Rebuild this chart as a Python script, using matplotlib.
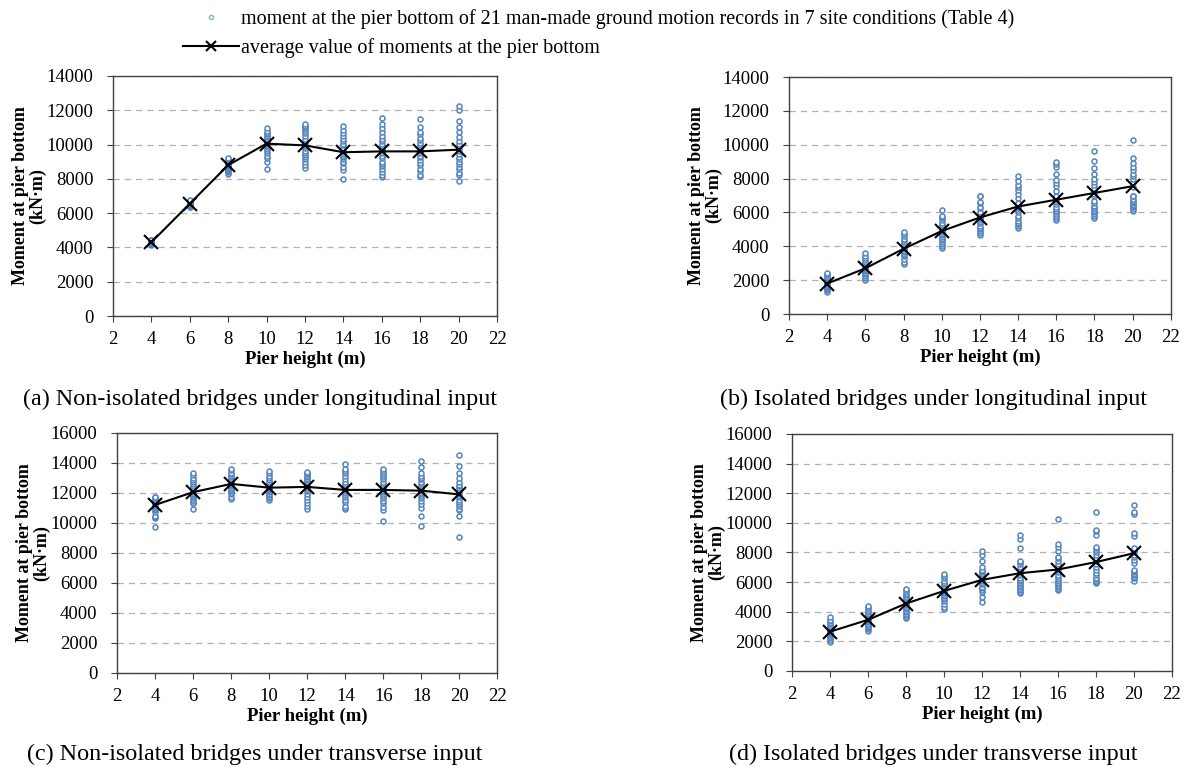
import matplotlib
matplotlib.use("Agg")
import matplotlib.pyplot as plt
from matplotlib.lines import Line2D
import numpy as np

plt.rcParams['font.family'] = ['Liberation Serif', 'DejaVu Serif']

heights = [4, 6, 8, 10, 12, 14, 16, 18, 20]

# (a) non-isolated, longitudinal - 21 records per pier height
a_pts = [
    [4150, 4180, 4200, 4220, 4240, 4250, 4260, 4270, 4280, 4290, 4300, 4300, 4310, 4320, 4330, 4340, 4350, 4370, 4390, 4420, 4450],
    [6350, 6380, 6400, 6420, 6450, 6470, 6490, 6500, 6520, 6540, 6550, 6560, 6580, 6600, 6610, 6630, 6650, 6680, 6700, 6720, 6750],
    [8300, 8380, 8450, 8500, 8550, 8600, 8650, 8700, 8750, 8780, 8800, 8850, 8880, 8900, 8950, 9000, 9050, 9080, 9100, 9150, 9200],
    [8600, 9000, 9200, 9350, 9500, 9650, 9750, 9850, 9950, 10000, 10050, 10100, 10200, 10300, 10350, 10450, 10500, 10600, 10700, 10800, 10950],
    [8650, 8800, 9000, 9150, 9250, 9400, 9500, 9600, 9800, 9900, 10000, 10100, 10300, 10500, 10700, 10800, 10900, 11000, 11050, 11100, 11200],
    [8000, 8500, 8700, 8900, 9000, 9150, 9250, 9350, 9450, 9550, 9600, 9700, 9800, 9950, 10050, 10200, 10350, 10500, 10700, 10850, 11100],
    [8100, 8250, 8400, 8600, 8750, 8850, 9000, 9200, 9350, 9500, 9650, 9750, 9900, 10050, 10200, 10350, 10500, 10750, 10950, 11200, 11550],
    [8150, 8250, 8450, 8600, 8800, 8950, 9100, 9250, 9350, 9500, 9600, 9700, 9800, 9950, 10100, 10250, 10400, 10600, 10750, 11000, 11500],
    [7900, 8200, 8350, 8550, 8700, 8850, 9000, 9150, 9300, 9450, 9600, 9750, 9900, 10050, 10200, 10450, 10750, 11000, 11400, 12000, 12250],
]
a_avg = [4300, 6550, 8800, 10050, 9950, 9550, 9600, 9600, 9700]

# (b) isolated, longitudinal
b_pts = [
    [1300, 1400, 1450, 1500, 1550, 1600, 1650, 1700, 1750, 1800, 1800, 1850, 1900, 1950, 2000, 2050, 2100, 2200, 2300, 2350, 2450],
    [2000, 2150, 2250, 2350, 2400, 2450, 2550, 2600, 2650, 2700, 2750, 2800, 2850, 2900, 2950, 3000, 3100, 3200, 3300, 3450, 3600],
    [2950, 3100, 3250, 3400, 3500, 3550, 3650, 3700, 3750, 3850, 3900, 3950, 4000, 4050, 4150, 4250, 4350, 4450, 4600, 4750, 4850],
    [3900, 4000, 4150, 4250, 4350, 4450, 4550, 4650, 4750, 4850, 4900, 4950, 5050, 5150, 5250, 5350, 5550, 5700, 5750, 5800, 6150],
    [4650, 4800, 4900, 5000, 5100, 5200, 5350, 5450, 5550, 5650, 5700, 5750, 5850, 5950, 6050, 6250, 6300, 6550, 6600, 6950, 7000],
    [5100, 5200, 5300, 5400, 5500, 5650, 5800, 6000, 6150, 6250, 6350, 6400, 6450, 6550, 6850, 7100, 7300, 7500, 7600, 7850, 8150],
    [5550, 5650, 5800, 5900, 6000, 6100, 6200, 6350, 6500, 6600, 6750, 6850, 7000, 7250, 7550, 7750, 7900, 8300, 8700, 8850, 8950],
    [5700, 5800, 5900, 6000, 6100, 6200, 6300, 6400, 6550, 6700, 6950, 7100, 7250, 7450, 7600, 7800, 8000, 8300, 8650, 9050, 9650],
    [6100, 6200, 6300, 6400, 6450, 6550, 6600, 6700, 6800, 6950, 7000, 7500, 7800, 8000, 8150, 8300, 8500, 8700, 8900, 9200, 10300],
]
b_avg = [1800, 2700, 3850, 4900, 5700, 6350, 6750, 7150, 7550]

# (c) non-isolated, transverse
c_pts = [
    [9750, 10300, 10400, 10450, 10700, 10850, 10950, 11000, 11100, 11150, 11200, 11250, 11300, 11350, 11400, 11450, 11500, 11550, 11600, 11700, 11750],
    [10900, 11300, 11350, 11450, 11600, 11700, 11800, 11900, 11950, 12000, 12100, 12150, 12250, 12350, 12450, 12600, 12700, 12850, 13000, 13200, 13350],
    [11600, 11750, 11900, 12000, 12100, 12200, 12300, 12350, 12450, 12500, 12600, 12650, 12750, 12850, 12950, 13050, 13150, 13250, 13350, 13500, 13600],
    [11550, 11650, 11750, 11850, 11950, 12050, 12100, 12200, 12250, 12300, 12350, 12400, 12450, 12550, 12650, 12750, 12850, 13000, 13150, 13300, 13450],
    [10900, 11100, 11300, 11550, 11750, 11950, 12100, 12200, 12300, 12400, 12450, 12550, 12650, 12750, 12850, 12950, 13050, 13150, 13250, 13350, 13400],
    [10900, 11000, 11100, 11400, 11550, 11700, 11850, 12000, 12100, 12200, 12300, 12400, 12500, 12600, 12750, 12900, 13100, 13300, 13450, 13600, 13950],
    [10150, 10850, 11050, 11300, 11450, 11650, 11800, 11950, 12050, 12150, 12250, 12350, 12450, 12600, 12750, 12900, 13050, 13200, 13350, 13450, 13600],
    [9800, 10450, 11000, 11250, 11450, 11650, 11800, 11900, 12000, 12100, 12200, 12300, 12450, 12600, 12750, 12900, 13000, 13100, 13300, 13750, 14100],
    [9050, 10450, 10850, 10950, 11100, 11250, 11400, 11550, 11700, 11800, 11900, 12000, 12150, 12300, 12450, 12550, 12750, 13000, 13300, 13800, 14500],
]
c_avg = [11200, 12050, 12600, 12350, 12400, 12200, 12200, 12150, 11900]

# (d) isolated, transverse
d_pts = [
    [1950, 2100, 2200, 2300, 2400, 2450, 2500, 2550, 2600, 2650, 2700, 2750, 2800, 2900, 2950, 3050, 3150, 3250, 3350, 3450, 3650],
    [2700, 2800, 2900, 3000, 3050, 3150, 3200, 3300, 3350, 3400, 3450, 3500, 3600, 3650, 3750, 3850, 3950, 4050, 4200, 4300, 4400],
    [3550, 3650, 3750, 3850, 3950, 4050, 4150, 4250, 4350, 4450, 4550, 4600, 4700, 4800, 4900, 5000, 5100, 5200, 5300, 5450, 5550],
    [4150, 4350, 4550, 4700, 4850, 4950, 5050, 5150, 5250, 5350, 5400, 5450, 5550, 5650, 5750, 5850, 5950, 6100, 6250, 6400, 6550],
    [4650, 5000, 5300, 5500, 5600, 5700, 5850, 5950, 6050, 6150, 6250, 6350, 6450, 6550, 6650, 6750, 6850, 7000, 7400, 7850, 8100],
    [5250, 5350, 5450, 5550, 5650, 5750, 5850, 5950, 6050, 6150, 6300, 6450, 6600, 6800, 7000, 7200, 7350, 7400, 8300, 8900, 9200],
    [5450, 5550, 5650, 5750, 5850, 5950, 6050, 6200, 6350, 6500, 6650, 6850, 7000, 7200, 7400, 7600, 7700, 8100, 8350, 8550, 10250],
    [5950, 6000, 6100, 6200, 6300, 6450, 6600, 6800, 7000, 7200, 7400, 7600, 7800, 8000, 8150, 8300, 8350, 9200, 9450, 9500, 10700],
    [6100, 6250, 6350, 6450, 6550, 6650, 6750, 6850, 7300, 7500, 7700, 7850, 8000, 8100, 8200, 8300, 9100, 9300, 10600, 10700, 11200],
]
d_avg = [2650, 3450, 4550, 5400, 6150, 6600, 6850, 7350, 7950]

captions = [
    "(a) Non-isolated bridges under longitudinal input",
    "(b) Isolated bridges under longitudinal input",
    "(c) Non-isolated bridges under transverse input",
    "(d) Isolated bridges under transverse input",
]
legend_labels = [
    "moment at the pier bottom of 21 man-made ground motion records in 7 site conditions (Table 4)",
    "average value of moments at the pier bottom",
]

blue = '#5584c0'
fig = plt.figure(figsize=(11.89, 7.67), dpi=100)

panels = [
    (a_pts, a_avg, 14000, [0.095, 0.588, 0.323, 0.313], (0.219, 0.466)),
    (b_pts, b_avg, 14000, [0.6636, 0.5906, 0.321, 0.309], (0.785, 0.466)),
    (c_pts, c_avg, 16000, [0.0984, 0.1226, 0.320, 0.313], (0.214, 0.003)),
    (d_pts, d_avg, 16000, [0.666, 0.1252, 0.3196, 0.309], (0.785, 0.003)),
]

for i, (pts, avg, ymax, rect, cap) in enumerate(panels):
    ax = fig.add_axes(rect)
    for h, col in zip(heights, pts):
        ax.scatter([h] * len(col), col, s=13, facecolors='white',
                   edgecolors=blue, linewidths=1.1, zorder=2)
    ax.plot(heights, avg, color='black', lw=1.5, marker='x', ms=10, mew=1.5, zorder=3)
    ax.set_xlim(2, 22)
    ax.set_ylim(0, ymax)
    ax.set_xticks(range(2, 23, 2))
    ax.set_yticks(range(0, ymax + 1, 2000))
    ax.yaxis.grid(True, linestyle=(0, (5, 4)), color='#b0b0b0', lw=0.9)
    ax.set_axisbelow(True)
    ax.tick_params(labelsize=13.5, length=4, color='#404040')
    ax.tick_params(axis='x', pad=7)
    ax.tick_params(axis='y', pad=10)
    for s in ax.spines.values():
        s.set_color('#404040')
        s.set_linewidth(1.0)
    ax.set_xlabel("Pier height (m)", fontsize=13.5, fontweight='bold', labelpad=2)
    ax.set_ylabel("Moment at pier bottom\n(kN·m)", fontsize=13, fontweight='bold',
                  linespacing=1.05, labelpad=0)
    fig.text(cap[0], cap[1], captions[i], fontsize=17.4, ha='center', va='bottom')

# legend on top
h1 = Line2D([], [], ls='none', marker='o', ms=3, mfc='white', mec='#8db0d8', mew=1.0)
h2 = Line2D([], [], color='black', lw=1.5, marker='x', ms=7, mew=1.5)
fig.legend([h1, h2], legend_labels, loc='upper left', bbox_to_anchor=(0.139, 1.012),
           frameon=False, fontsize=14.5, handlelength=2.75, handletextpad=0.1,
           labelspacing=0.45)

fig.savefig('out.png', dpi=100)
